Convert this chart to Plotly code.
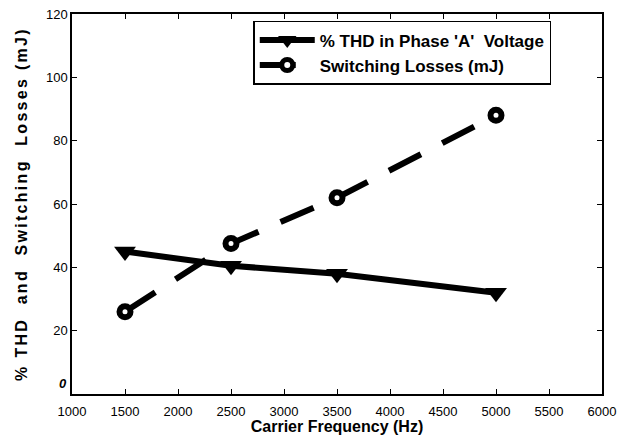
import plotly.graph_objects as go

freq = [1500, 2500, 3500, 5000]
thd = [45, 40.5, 38, 32]
sw_loss = [26, 47.5, 62, 88]
x_ticks = [1000, 1500, 2000, 2500, 3000, 3500, 4000, 4500, 5000, 5500, 6000]
y_ticks = [0, 20, 40, 60, 80, 100, 120]
y_tick_text = ["", "20", "40", "60", "80", "100", "120"]

FONT = "Liberation Sans, Arial"

fig = go.Figure()
fig.add_trace(go.Scatter(
    x=freq, y=thd, mode="lines+markers",
    name="% THD in Phase 'A'  Voltage",
    line=dict(color="black", width=6),
    marker=dict(symbol="triangle-down", size=19, color="black"),
))
fig.add_trace(go.Scatter(
    x=freq, y=sw_loss, mode="lines+markers",
    name="Switching Losses (mJ)",
    line=dict(color="black", width=6, dash="36px,24px"),
    marker=dict(symbol="circle", size=11, color="white", line=dict(color="black", width=6)),
))

axis_common = dict(
    showline=True, linecolor="black", linewidth=1.5, mirror="ticks",
    ticks="inside", ticklen=5, tickcolor="black", tickwidth=1,
    showgrid=False, zeroline=False, automargin=False,
    tickfont=dict(family=FONT, size=13, color="black"),
)

fig.update_xaxes(
    range=[1000, 6000], tickvals=x_ticks, ticklabelstandoff=5,
    title=dict(text="<b>Carrier Frequency (Hz)</b>", font=dict(family=FONT, size=16, color="black"), standoff=3),
    **axis_common,
)
fig.update_yaxes(
    range=[0, 120], tickvals=y_ticks, ticktext=y_tick_text,
    title=dict(text="<b><span style=\"letter-spacing:2.3px\">% THD  and  Switching  Losses (mJ)</span></b>",
               font=dict(family=FONT, size=16, color="black"), standoff=14),
    **axis_common,
)

fig.add_annotation(
    x=0, y=0, xref="paper", yref="y", text="<b><i>0</i></b>",
    showarrow=False, xanchor="right", yanchor="bottom", xshift=-3, yshift=1,
    font=dict(family=FONT, size=13, color="black"),
)

fig.update_layout(
    width=621, height=435,
    margin=dict(l=72, r=19, t=14, b=41),
    paper_bgcolor="white", plot_bgcolor="white",
    showlegend=True,
    legend=dict(
        x=0.342, y=0.982, xanchor="left", yanchor="top",
        bordercolor="black", borderwidth=1.5, bgcolor="white",
        font=dict(family=FONT, size=17, color="black", weight="bold"),
        itemwidth=55, tracegroupgap=0,
    ),
)

fig.write_html("out.html")
